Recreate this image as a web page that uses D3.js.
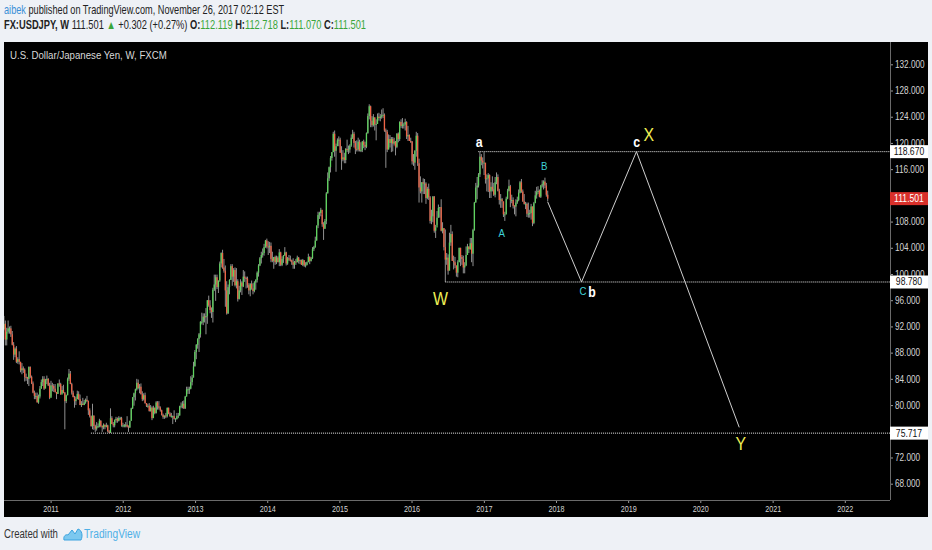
<!DOCTYPE html>
<html>
<head>
<meta charset="utf-8">
<script src="https://cdn.jsdelivr.net/npm/d3@7"></script>
<style>
  body { margin: 0; background: #eef1f6; }
  text { font-family: "Liberation Sans", Arial, sans-serif; }
</style>
</head>
<body>
<div class="canvas"></div>
<script>
// weekly bars, each [high, low, close]; open = previous close (FX weekly bars)
const firstWeek = '2010-05-10';
const firstOpen = 91.6;

const bars2010 = [[93.6,91.4,92.4],[92.9,89.1,90.0],[91.8,89.1,91.2],[92.9,90.9,91.7],[92.0,90.9,91.7],[92.1,90.4,90.8],[91.3,89.1,89.2],[89.6,86.9,87.7],[88.8,87.3,88.6],[89.0,86.4,86.6],[87.3,86.3,87.0],[88.2,86.2,86.6],[86.6,85.0,85.3],[86.4,84.7,85.6],[85.9,84.9,85.4],[85.6,83.6,84.3],[84.8,83.7,84.2],[84.3,83.2,84.0],[85.9,82.9,85.8],[85.9,84.1,84.3],[84.5,83.2,83.3],[83.6,81.8,81.9],[82.2,80.9,81.4],[81.9,80.9,81.4],[81.9,80.4,80.4],[81.6,80.2,81.3],[82.9,81.0,82.5],[83.9,82.5,83.5],[84.4,82.9,84.0],[84.4,82.3,82.5],[84.0,82.7,83.8],[84.5,83.2,84.0],[84.1,82.9,83.0],[83.4,80.9,81.1]];
const bars2011 = [[83.7,81.3,83.0],[83.4,82.1,82.9],[83.2,82.0,82.5],[83.2,81.9,82.0],[82.0,80.9,81.7],[83.3,81.7,83.3],[83.9,82.8,83.2],[83.4,81.6,81.6],[82.9,81.8,82.3],[83.1,81.8,81.9],[82.0,76.3,80.6],[81.6,80.3,81.5],[84.2,81.5,84.0],[85.5,83.7,84.8],[85.2,83.2,83.2],[83.4,81.6,81.9],[82.2,81.2,81.2],[81.4,79.6,80.6],[81.3,80.0,80.9],[82.2,80.9,81.7],[82.1,80.8,80.9],[81.6,80.0,80.0],[80.6,79.7,80.2],[81.1,80.0,80.0],[80.8,80.0,80.4],[81.0,80.2,80.8],[81.4,80.5,80.6],[80.7,78.5,79.2],[79.5,78.1,78.3],[78.4,76.7,76.8],[80.2,76.3,78.4],[78.4,76.2,76.8],[77.0,75.9,76.4],[77.4,76.1,76.7],[77.2,76.5,76.8],[77.9,76.6,77.6],[77.7,76.6,76.8],[76.9,75.9,76.6],[77.2,76.3,77.0],[77.0,76.3,76.7],[77.3,76.6,76.9],[77.0,75.9,76.0],[76.2,75.72,75.8],[79.5,75.75,78.0],[78.3,77.1,77.1],[77.4,76.6,76.9],[77.8,76.6,77.7],[78.2,77.3,77.9],[78.1,77.3,77.6],[78.3,77.5,78.0],[78.2,77.7,78.0],[78.2,76.7,76.9]];
const bars2012 = [[77.3,76.6,76.9],[77.1,76.6,76.9],[77.4,76.6,77.0],[78.3,76.6,76.7],[76.9,75.9,76.6],[77.6,76.5,77.6],[79.6,77.6,79.5],[81.2,79.4,81.2],[81.9,79.9,81.8],[82.5,80.7,82.4],[84.0,82.2,83.4],[83.9,82.4,82.6],[83.2,81.8,82.8],[83.3,81.6,81.7],[82.1,80.6,80.9],[81.8,80.7,81.5],[81.9,80.2,80.3],[80.3,79.7,79.9],[80.2,79.6,79.9],[80.3,79.0,79.1],[80.0,79.0,79.6],[79.8,77.7,78.0],[79.9,78.1,79.6],[79.6,78.6,78.8],[80.6,78.7,80.4],[80.6,79.3,79.8],[80.6,79.3,79.6],[79.8,79.0,79.2],[79.3,78.4,78.5],[78.7,77.9,78.2],[78.4,77.9,78.4],[78.8,78.0,78.3],[79.6,78.1,79.6],[79.6,78.6,78.7],[78.9,78.2,78.3],[78.8,78.1,78.3],[78.4,77.1,78.3],[79.2,77.8,77.9],[78.0,77.4,77.9],[78.8,77.8,78.3],[78.8,78.0,78.4],[79.9,78.4,79.8],[80.4,79.5,79.9],[80.6,79.5,80.2],[80.7,79.4,79.5],[81.4,79.4,81.3],[82.8,81.3,82.4],[82.8,81.7,82.4],[82.8,81.7,82.5],[84.4,82.4,83.5],[84.6,83.0,84.2],[86.6,84.2,85.9],[88.4,85.9,88.1]];
const bars2013 = [[89.3,87.0,89.2],[90.2,88.6,90.1],[91.0,88.1,90.8],[92.8,90.3,92.7],[94.1,92.3,92.7],[94.0,92.2,93.5],[94.0,92.6,93.4],[94.8,90.8,93.6],[96.0,92.4,96.0],[96.7,95.0,95.2],[96.0,94.0,94.5],[94.9,93.3,94.2],[97.9,92.6,97.6],[99.9,97.4,98.4],[99.9,95.9,99.5],[99.9,97.7,98.0],[99.0,97.1,99.0],[101.9,98.8,101.6],[103.3,101.0,103.2],[103.7,100.8,101.0],[102.3,100.2,100.5],[101.3,95.0,97.5],[98.9,93.8,94.0],[98.4,93.9,98.0],[99.2,96.9,99.1],[101.5,99.1,101.2],[101.5,98.2,99.6],[100.9,98.8,100.6],[101.0,98.1,98.3],[100.9,97.8,98.9],[99.2,95.8,96.2],[98.2,96.1,97.5],[99.2,97.2,98.7],[98.9,96.8,98.1],[100.6,98.0,99.6],[100.4,98.8,99.4],[99.6,97.8,99.3],[99.6,97.9,98.3],[98.6,96.9,97.5],[98.6,96.6,98.5],[99.0,97.6,97.8],[98.6,96.9,97.4],[98.9,97.2,98.7],[99.2,97.6,99.1],[100.4,98.7,100.2],[101.5,99.6,101.3],[102.6,101.2,102.4],[103.4,101.6,102.9],[103.9,102.5,103.2],[104.6,102.8,104.1],[105.2,104.0,105.1],[105.4,103.9,104.2]];
const bars2014 = [[105.0,102.9,104.1],[104.9,103.2,104.3],[104.8,101.8,102.3],[103.4,101.8,102.0],[102.6,100.8,102.6],[102.8,101.4,101.8],[102.8,101.5,102.5],[102.7,101.8,101.8],[103.8,101.2,103.3],[103.4,101.2,101.4],[102.7,101.2,102.3],[102.9,101.7,102.8],[104.1,102.8,103.3],[103.4,101.3,101.6],[102.6,101.4,102.4],[102.9,102.0,102.2],[102.8,101.9,102.1],[102.2,101.4,101.8],[102.4,100.8,101.4],[102.0,100.8,101.9],[102.3,101.4,101.8],[102.8,101.8,102.5],[102.6,101.6,102.0],[102.2,101.5,102.1],[102.2,101.4,101.4],[102.3,101.2,102.1],[102.1,101.1,101.3],[101.8,101.0,101.4],[101.9,101.3,101.8],[103.1,101.8,102.6],[102.7,101.5,102.0],[102.6,101.9,102.4],[104.1,102.3,103.8],[104.3,103.5,104.1],[105.7,104.0,105.1],[107.4,105.1,107.4],[109.5,107.0,109.0],[109.5,108.4,109.3],[110.1,108.8,109.8],[109.0,107.2,107.6],[107.9,105.2,106.9],[108.4,106.9,108.1],[112.5,107.6,112.3],[115.5,112.3,114.6],[116.4,114.2,116.3],[118.0,115.5,117.7],[118.6,117.3,118.6],[121.7,118.6,121.4],[121.9,117.9,118.8],[119.9,115.6,119.5],[120.7,119.6,120.4],[121.0,119.5,120.5]];
const bars2015 = [[120.8,118.5,118.5],[119.5,115.9,117.5],[118.9,117.2,117.8],[118.5,116.9,117.4],[119.2,116.9,119.1],[120.5,118.6,118.9],[119.6,118.3,119.0],[119.8,118.5,119.6],[121.3,119.4,120.8],[122.0,120.6,121.4],[121.7,119.3,120.0],[120.3,118.3,119.1],[120.4,118.7,119.0],[120.8,118.7,120.2],[120.5,118.7,118.9],[120.1,118.6,118.9],[120.3,118.6,120.2],[120.5,119.2,119.7],[120.2,118.9,119.4],[121.6,119.2,121.5],[124.5,121.4,124.1],[125.9,123.6,125.6],[125.7,122.4,123.4],[124.1,122.4,122.7],[124.4,122.5,123.9],[123.9,121.9,122.8],[123.6,120.4,122.9],[124.5,122.9,124.0],[124.6,123.4,123.8],[124.4,123.3,124.0],[125.1,123.7,124.2],[125.3,123.8,124.3],[124.5,121.7,121.9],[122.2,116.2,121.7],[122.0,118.6,119.0],[121.3,119.0,120.6],[121.2,119.3,120.0],[120.9,118.6,120.6],[120.9,118.7,119.9],[120.8,119.6,120.2],[120.3,118.1,119.4],[121.5,119.2,121.4],[121.6,120.1,120.6],[123.3,120.3,123.2],[123.6,122.3,122.6],[123.8,122.2,122.8],[123.1,122.2,122.8],[123.7,121.9,123.2],[123.3,120.6,121.0],[122.6,120.3,121.2],[121.3,120.3,120.3],[120.8,120.0,120.2]];
const bars2016 = [[120.3,116.7,117.2],[118.3,116.5,117.0],[118.9,115.9,118.8],[121.7,117.9,121.1],[121.5,116.5,116.9],[117.6,110.9,113.2],[114.9,112.3,112.6],[114.0,110.9,114.0],[114.6,112.2,113.8],[114.5,112.2,113.8],[114.0,110.7,111.6],[113.3,111.4,113.0],[113.8,111.3,111.7],[111.9,107.7,108.1],[109.8,107.6,108.8],[111.9,107.9,111.8],[111.9,106.3,106.6],[107.5,105.5,107.1],[109.6,107.5,108.6],[110.6,108.6,110.1],[110.2,108.6,110.2],[111.4,106.5,106.6],[107.9,106.2,107.0],[107.0,103.6,104.1],[106.8,98.78,102.2],[103.2,101.4,102.5],[103.0,99.9,100.5],[106.3,100.6,104.8],[107.5,104.3,106.1],[106.5,102.0,102.0],[102.8,100.7,101.8],[102.6,100.9,101.3],[101.3,99.6,100.2],[102.1,99.5,101.8],[104.0,101.8,104.0],[104.0,101.2,102.6],[102.9,101.4,102.3],[102.8,100.1,101.0],[101.8,100.1,101.3],[104.2,101.2,102.9],[104.6,102.9,104.2],[104.2,103.2,103.8],[105.5,103.7,104.7],[105.5,101.8,103.1],[106.9,101.2,106.7],[111.0,106.6,110.9],[113.9,110.9,113.2],[114.8,111.4,113.5],[115.4,113.2,115.2],[118.67,114.8,117.9],[118.3,116.6,117.3],[117.8,116.1,117.0]];
const bars2017 = [[118.6,115.1,117.0],[116.9,113.8,114.5],[115.2,112.6,114.6],[115.4,112.5,115.1],[115.2,111.6,112.6],[114.0,111.6,113.3],[114.9,112.6,112.9],[113.9,111.9,112.1],[114.8,111.7,114.0],[115.5,113.7,114.8],[115.2,112.6,112.7],[113.0,110.6,111.3],[112.2,110.1,111.4],[111.6,110.1,111.1],[111.0,108.7,109.1],[109.5,108.1,109.1],[111.8,109.1,111.5],[113.0,111.4,112.7],[114.4,112.6,113.4],[113.6,110.2,111.3],[112.1,110.8,111.3],[111.7,110.0,110.4],[110.5,109.1,110.3],[111.4,108.8,110.9],[111.8,110.7,111.3],[112.9,111.1,112.4],[114.2,112.3,114.0],[114.5,112.4,112.6],[112.9,111.0,111.1],[112.2,110.6,110.7],[111.0,109.9,110.7],[110.9,108.7,109.2],[110.9,108.6,109.2],[109.8,108.6,109.3],[110.7,108.3,110.3],[110.3,107.3,107.8],[111.0,107.6,110.8],[112.7,110.9,112.0],[113.3,111.5,112.5],[113.4,112.2,112.7],[112.9,111.7,111.8],[113.6,111.6,113.5],[114.3,113.2,113.7],[114.3,112.9,114.1],[114.7,113.1,113.5],[113.9,111.8,112.1],[112.718,111.070,111.501]];

const yTicks = [68, 72, 76, 80, 84, 88, 92, 96, 100, 104, 108, 112, 116, 120, 124, 128, 132];
const yearTicks = [2011, 2012, 2013, 2014, 2015, 2016, 2017, 2018, 2019, 2020, 2021, 2022];

// horizontal levels drawn on the chart
const levelValues = [118.670, 98.780, 75.717];
const levelStarts = ['2016-12-04', '2016-06-20', '2011-07-24'];
const lastPrice = 111.501;

// projected wave path
const pathDates = ['2017-11-20', '2018-05-10', '2019-02-12', '2020-07-16'];
const pathValues = [111.0, 98.78, 118.67, 76.6];

// wave labels
const waveText = ['a', 'B', 'A', 'W', 'C', 'b', 'c', 'X', 'Y'];
const waveKind = ['minor', 'sub', 'sub', 'major', 'sub', 'minor', 'minor', 'major', 'major'];
const waveDates = ['2016-12-08', '2017-11-02', '2017-04-01', '2016-05-27', '2018-05-18', '2018-07-02', '2019-02-13', '2019-04-15', '2020-07-24'];
const waveValues = [120.19, 116.48, 106.21, 96.33, 97.45, 97.21, 120.19, 121.36, 74.16];

////////// LAYOUT ///////////////////
const width = 932;
const height = 550;
const plot = {left: 4, right: 890, top: 42, bottom: 500};
const parse = d3.timeParse('%Y-%m-%d');

const svg = d3.select('.canvas')
    .append('svg')
    .attr('width', width)
    .attr('height', height);

svg.append('rect')
    .attr('width', width).attr('height', height)
    .attr('fill', '#eef1f6');

svg.append('rect')
    .attr('x', 4).attr('y', plot.top)
    .attr('width', 924).attr('height', 517 - plot.top)
    .attr('fill', '#000');

// the reference uses a condensed face; squeeze the installed sans to match
function squeeze(sel, k) {
    sel.each(function() {
        const w = this.getComputedTextLength();
        d3.select(this)
            .attr('textLength', w * k)
            .attr('lengthAdjust', 'spacingAndGlyphs');
    });
}

// fit a whole text line (with tspans) into a target width by scaling its group
function fitLine(g, x0, target) {
    const w = g.node().getBBox().width;
    g.attr('transform', `translate(${x0},0) scale(${target / w},1)`);
}

////////// SCALES ///////////////////
const x = d3.scaleTime()
    .domain([new Date(2011, 0, 1), new Date(2022, 0, 1)])
    .range([50.6, 844.8]);

const y = d3.scaleLinear()
    .domain([68, 132])
    .range([483.7, 64.3]);

////////// BARS ///////////////////
const allBars = [].concat(bars2010, bars2011, bars2012, bars2013, bars2014, bars2015, bars2016, bars2017);
const start = parse(firstWeek);
const candles = allBars.map((b, i) => ({
    date: d3.timeWeek.offset(start, i),
    open: i === 0 ? firstOpen : allBars[i - 1][2],
    high: b[0],
    low: b[1],
    close: b[2]
}));

svg.append('clipPath').attr('id', 'plotClip')
    .append('rect')
    .attr('x', plot.left).attr('y', plot.top)
    .attr('width', plot.right - plot.left).attr('height', plot.bottom - plot.top);

const graph = svg.append('g').attr('clip-path', 'url(#plotClip)');

graph.selectAll('line.wick')
    .data(candles)
    .enter()
    .append('line')
    .attr('class', 'wick')
    .attr('x1', d => x(d.date)).attr('x2', d => x(d.date))
    .attr('y1', d => y(d.high)).attr('y2', d => y(d.low))
    .attr('stroke', '#909090')
    .attr('stroke-width', 1);

graph.selectAll('rect.body')
    .data(candles)
    .enter()
    .append('rect')
    .attr('class', 'body')
    .attr('x', d => x(d.date) - 0.65)
    .attr('width', 1.3)
    .attr('y', d => y(Math.max(d.open, d.close)))
    .attr('height', d => Math.max(1, Math.abs(y(d.open) - y(d.close))))
    .attr('fill', d => d.close >= d.open ? '#5fd35f' : '#ef6446');

////////// LEVELS & PROJECTION ///////////////////
graph.selectAll('line.level')
    .data(levelValues)
    .enter()
    .append('line')
    .attr('class', 'level')
    .attr('x1', (d, i) => x(parse(levelStarts[i])))
    .attr('x2', plot.right)
    .attr('y1', d => y(d)).attr('y2', d => y(d))
    .attr('stroke', '#eeeeee')
    .attr('stroke-width', 1)
    .attr('stroke-dasharray', '1,1');

const pathLine = d3.line()
    .x(d => x(parse(d[0])))
    .y(d => y(d[1]));

graph.append('path')
    .datum(pathDates.map((d, i) => [d, pathValues[i]]))
    .attr('d', pathLine)
    .attr('fill', 'none')
    .attr('stroke', '#cfcfcf')
    .attr('stroke-width', 1);

////////// WAVE LABELS ///////////////////
const kindStyle = {
    major: {fill: '#eeee55', size: 18, weight: 'normal'},
    minor: {fill: '#ffffff', size: 14, weight: 'bold'},
    sub: {fill: '#3fd0d8', size: 11, weight: 'normal'}
};

svg.selectAll('text.wave')
    .data(waveText)
    .enter()
    .append('text')
    .attr('class', 'wave')
    .attr('x', (d, i) => x(parse(waveDates[i])))
    .attr('y', (d, i) => y(waveValues[i]))
    .attr('dy', '0.36em')
    .attr('text-anchor', 'middle')
    .attr('fill', (d, i) => kindStyle[waveKind[i]].fill)
    .attr('font-size', (d, i) => kindStyle[waveKind[i]].size)
    .attr('font-weight', (d, i) => kindStyle[waveKind[i]].weight)
    .text(d => d)
    .call(squeeze, 0.88);

////////// AXES ///////////////////
// tick labels sitting under a price tag are hidden, as in the reference
const tagValues = levelValues.concat([lastPrice]);
const shownTicks = yTicks.filter(t => tagValues.every(v => Math.abs(y(t) - y(v)) > 4));

const yAxis = d3.axisRight(y)
    .tickValues(shownTicks)
    .tickFormat(d3.format('.3f'))
    .tickSize(3)
    .tickPadding(2);

const gYAxis = svg.append('g')
    .attr('transform', `translate(${plot.right}, 0)`)
    .call(yAxis);
gYAxis.select('.domain').remove();
gYAxis.selectAll('line').attr('stroke', '#9a9a9a');
gYAxis.selectAll('text')
    .attr('fill', '#d4d4d4')
    .style('font-size', '10px')
    .call(squeeze, 0.82);

const xAxis = d3.axisBottom(x)
    .tickValues(yearTicks.map(d => new Date(d, 0, 1)))
    .tickFormat(d3.timeFormat('%Y'))
    .tickSize(3)
    .tickPadding(3);

const gXAxis = svg.append('g')
    .attr('transform', `translate(0, ${plot.bottom})`)
    .call(xAxis);
gXAxis.select('.domain').remove();
gXAxis.selectAll('line').attr('stroke', '#9a9a9a');
gXAxis.selectAll('text')
    .attr('fill', '#d4d4d4')
    .style('font-size', '9px')
    .call(squeeze, 0.8);

svg.append('line')
    .attr('x1', plot.left).attr('x2', plot.right)
    .attr('y1', plot.bottom + 0.5).attr('y2', plot.bottom + 0.5)
    .attr('stroke', '#6a6a6a');
svg.append('line')
    .attr('x1', plot.right + 0.5).attr('x2', plot.right + 0.5)
    .attr('y1', plot.top).attr('y2', plot.bottom)
    .attr('stroke', '#6a6a6a');

////////// PRICE TAGS ///////////////////
const tags = levelValues.map(v => ({v, bg: '#ffffff', fg: '#111111'}))
    .concat([{v: lastPrice, bg: '#d8302a', fg: '#ffffff'}]);

const tag = svg.selectAll('g.tag')
    .data(tags)
    .enter()
    .append('g')
    .attr('class', 'tag')
    .attr('transform', d => `translate(${plot.right}, ${y(d.v)})`);

tag.append('rect')
    .attr('x', 0).attr('y', -6.5)
    .attr('width', 38).attr('height', 13)
    .attr('fill', d => d.bg);

tag.append('text')
    .attr('x', 19).attr('dy', '0.35em')
    .attr('text-anchor', 'middle')
    .attr('fill', d => d.fg)
    .style('font-size', '10px')
    .text(d => d3.format('.3f')(d.v))
    .call(squeeze, 0.86);

////////// TITLES ///////////////////
svg.append('text')
    .attr('x', 10).attr('y', 55).attr('dy', '0.35em')
    .attr('fill', '#d8d8d8')
    .style('font-size', '11.5px')
    .text('U.S. Dollar/Japanese Yen, W, FXCM')
    .call(squeeze, 0.84);

const line1 = svg.append('g');
const head1 = line1.append('text')
    .attr('x', 0).attr('y', 10).attr('dy', '0.35em')
    .style('font-size', '12px')
    .attr('fill', '#222');
head1.append('tspan').attr('fill', '#3b8fd6').text('aibek');
head1.append('tspan').text(' published on TradingView.com, November 26, 2017 02:12 EST');
fitLine(line1, 4, 281);

const green = '#3aa63a';
const line2 = svg.append('g');
const head2 = line2.append('text')
    .attr('x', 0).attr('y', 25).attr('dy', '0.35em')
    .style('font-size', '12px')
    .attr('fill', '#222');
head2.append('tspan').attr('font-weight', 'bold').text('FX:USDJPY, W ');
head2.append('tspan').text(' 111.501 ');
head2.append('tspan').attr('fill', green).text('▲');
head2.append('tspan').text(' +0.302 (+0.27%) ');
[['O:', '112.119'], ['H:', '112.718'], ['L:', '111.070'], ['C:', '111.501']].forEach((p, i) => {
    head2.append('tspan').attr('font-weight', 'bold').text(p[0]);
    head2.append('tspan').attr('fill', green).text(i < 3 ? p[1] + ' ' : p[1]);
});
fitLine(line2, 4, 363);

////////// FOOTER ///////////////////
svg.append('text')
    .attr('x', 4).attr('y', 534).attr('dy', '0.35em')
    .attr('fill', '#333')
    .style('font-size', '12px')
    .text('Created with')
    .call(squeeze, 0.8);

svg.append('path')
    .attr('transform', 'translate(64, 527)')
    .attr('d', 'M0,13 C-1,9 2,7 4,8 L8,3 L11,7 L14,2 C18,3 19,9 17,13 Z')
    .attr('fill', '#7cc8ef')
    .attr('stroke', '#3aa3df')
    .attr('stroke-width', 1);

svg.append('text')
    .attr('x', 84).attr('y', 534).attr('dy', '0.35em')
    .attr('fill', '#4fb0e6')
    .style('font-size', '12px')
    .text('TradingView')
    .call(squeeze, 0.85);
</script>
</body>
</html>
